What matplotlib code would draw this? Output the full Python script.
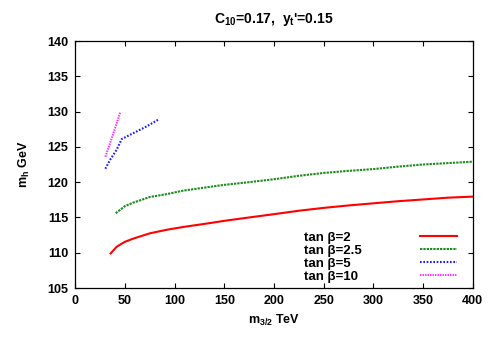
import matplotlib
matplotlib.use("Agg")
import matplotlib.pyplot as plt

plt.rcParams['font.family'] = ['Liberation Sans', 'DejaVu Sans']
plt.rcParams['font.weight'] = 'bold'
plt.rcParams['axes.titleweight'] = 'bold'
plt.rcParams['axes.labelweight'] = 'bold'
plt.rcParams['mathtext.fontset'] = 'custom'
plt.rcParams['mathtext.rm'] = 'Liberation Sans:bold'
plt.rcParams['mathtext.it'] = 'Liberation Sans:bold'
plt.rcParams['mathtext.bf'] = 'Liberation Sans:bold'
plt.rcParams['mathtext.default'] = 'rm'

# values
m32_tb2 = [35.4, 41.5, 49.8, 58.2, 75, 91.8, 108.6, 135.4, 148.9, 175, 199.2, 225, 249.6, 275,
           300, 325, 350.3, 375, 400]
mh_tb2 = [109.9, 110.85, 111.55, 112.0, 112.75, 113.25, 113.65, 114.2, 114.5, 115.0, 115.45, 115.95,
          116.35, 116.7, 117.0, 117.3, 117.55, 117.8, 117.95]

m32_tb25 = [40.5, 49.8, 58.2, 75, 91.8, 108.6, 133.7, 148.9, 175, 199.2, 225, 249.6, 275, 300,
            325, 350, 375, 400]
mh_tb25 = [115.6, 116.6, 117.1, 117.9, 118.3, 118.8, 119.3, 119.6, 120.0, 120.4, 120.9, 121.3,
           121.6, 121.85, 122.2, 122.5, 122.7, 122.9]

m32_tb5 = [30.1, 35, 41.5, 46.5, 58.3, 71.7, 84.5]
mh_tb5 = [121.9, 123.2, 124.6, 126.1, 126.95, 127.9, 128.95]

m32_tb10 = [30.1, 35, 40, 45]
mh_tb10 = [123.6, 125.6, 127.7, 129.9]

labels = ['tan β=2', 'tan β=2.5', 'tan β=5', 'tan β=10']

fig = plt.figure(figsize=(4.94, 3.46), dpi=100)
ax = fig.add_axes([0.1528, 0.1676, 0.8041, 0.7139])

ax.plot(m32_tb2, mh_tb2, color='#ff0000', lw=1.5, label=labels[0])
ax.plot(m32_tb25, mh_tb25, color='#1e8c1e', lw=1.5, dashes=(1.1, 0.5), label=labels[1])
ax.plot(m32_tb5, mh_tb5, color='#1a1aff', lw=1.5, dashes=(0.8, 0.8), label=labels[2])
ax.plot(m32_tb10, mh_tb10, color='#ff33ff', lw=1.5, dashes=(0.7, 0.5), label=labels[3])

ax.set_xlim(0, 400)
ax.set_ylim(105, 140)
ax.set_xticks(range(0, 401, 50))
ax.set_yticks(range(105, 141, 5))
ax.tick_params(direction='in', top=True, right=True, length=3.5, labelsize=9, width=0.8, pad=5)
for s in ax.spines.values():
    s.set_linewidth(0.9)

ax.set_xlabel('m$_{3/2}$ TeV', fontsize=9, labelpad=4)
ax.set_ylabel('m$_h$ GeV', fontsize=9, labelpad=11)
ax.set_title("C$_{10}$=0.17,  y$_t$'=0.15", fontsize=10, pad=13)

leg = ax.legend(loc='upper left', bbox_to_anchor=(0.575, 0.228), frameon=False, markerfirst=False,
                fontsize=9.5, handlelength=2.8, handletextpad=1.0, labelspacing=0.06,
                borderpad=0, borderaxespad=0)
# gnuplot-style key: labels left aligned, samples flush right
for col in leg._legend_handle_box.get_children():
    col.align = 'left'
    for row in col.get_children():
        row.mode = 'expand'
        row.width = 152.7

fig.savefig('out.png', dpi=100)
